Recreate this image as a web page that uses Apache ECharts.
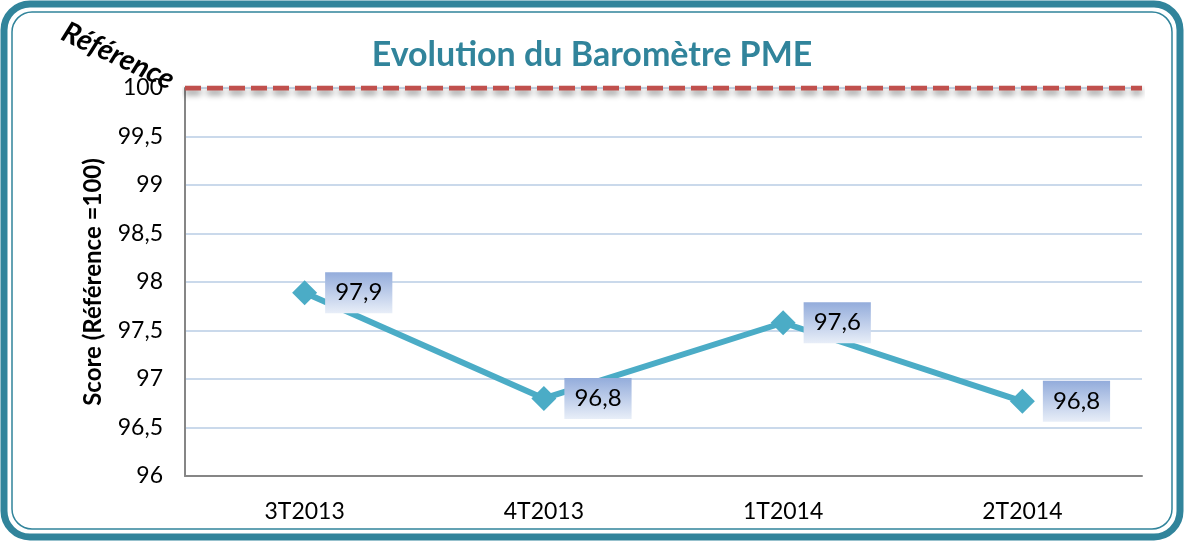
<!DOCTYPE html>
<html><head><meta charset="utf-8">
<script src="https://cdn.jsdelivr.net/npm/echarts@6/dist/echarts.min.js"></script>
<style>html,body{margin:0;padding:0;background:#fff}#c{width:1184px;height:541px}</style>
</head><body><div id="c"></div>
<script>
const categories = ['3T2013', '4T2013', '1T2014', '2T2014'];
const scores = [97.89, 96.8, 97.58, 96.77];
const reference = [100, 100, 100, 100];
const yTicks = [96, 96.5, 97, 97.5, 98, 98.5, 99, 99.5, 100];
const titleText = 'Evolution du Baromètre PME';
const yAxisName = 'Score (Référence =100)';
const refLabel = 'Référence';

const FONT = 'Lato, "Open Sans", sans-serif';
const fmt = v => String(v).replace('.', ',');
const chart = echarts.init(document.getElementById('c'));
chart.setOption({
  animation: false,
  title: {text: titleText, left: 'center', top: 33,
    textStyle: {color: '#31849B', fontSize: 34, fontWeight: 'bold', fontFamily: FONT}},
  grid: {left: 185, right: 42, top: 88, bottom: 65},
  xAxis: [{
    type: 'category', data: categories, boundaryGap: true,
    axisLine: {lineStyle: {color: '#868686', width: 2}},
    axisTick: {show: false},
    axisLabel: {color: '#000', fontSize: 23, fontFamily: FONT, margin: 24}
  }, {
    type: 'category', data: categories, boundaryGap: false, show: false
  }],
  yAxis: {
    type: 'value', min: 96, max: 100, interval: 0.5,
    name: yAxisName, nameLocation: 'middle', nameGap: 80,
    nameTextStyle: {color: '#000', fontSize: 24, fontWeight: 'bold', fontFamily: FONT},
    axisLine: {show: true, lineStyle: {color: '#868686', width: 2}},
    axisTick: {show: false},
    axisLabel: {color: '#000', fontSize: 23, fontFamily: FONT, margin: 22,
      formatter: v => yTicks.includes(v) ? fmt(v) : ''},
    splitLine: {lineStyle: {color: '#b9cde5', width: 1.5}}
  },
  series: [{
    name: 'Référence', type: 'line', xAxisIndex: 1, data: reference,
    symbol: 'none', silent: true, z: 1,
    lineStyle: {color: '#c0504d', width: 5, type: [16, 6],
      shadowColor: 'rgba(0,0,0,0.45)', shadowBlur: 6, shadowOffsetY: 4}
  }, {
    name: 'Score', type: 'line', data: scores, z: 3,
    symbol: 'diamond', symbolSize: 25,
    lineStyle: {color: '#4BACC6', width: 6},
    itemStyle: {color: '#4BACC6'},
    label: {show: true, position: 'right', distance: 8,
      formatter: p => fmt(p.value.toFixed(1)),
      color: '#000', fontSize: 24, fontFamily: FONT,
      padding: [9, 10, 8, 10],
      backgroundColor: new echarts.graphic.LinearGradient(0, 0, 0, 1, [
        {offset: 0, color: '#93acdb'}, {offset: 1, color: '#e8eef8'}])}
  }],
  graphic: [{
    type: 'rect', shape: {x: 4, y: 4, width: 1176, height: 533, r: 26},
    style: {fill: 'none', stroke: '#31849B', lineWidth: 7}, silent: true
  }, {
    type: 'rect', shape: {x: 12, y: 12, width: 1160, height: 517, r: 20},
    style: {fill: 'none', stroke: '#31849B', lineWidth: 1.5}, silent: true
  }, {
    type: 'text', x: 118, y: 56, rotation: -25 * Math.PI / 180,
    style: {text: refLabel, fill: '#000', font: 'italic bold 29px ' + FONT,
      textAlign: 'center', textVerticalAlign: 'middle'}, silent: true
  }]
});
</script></body></html>
